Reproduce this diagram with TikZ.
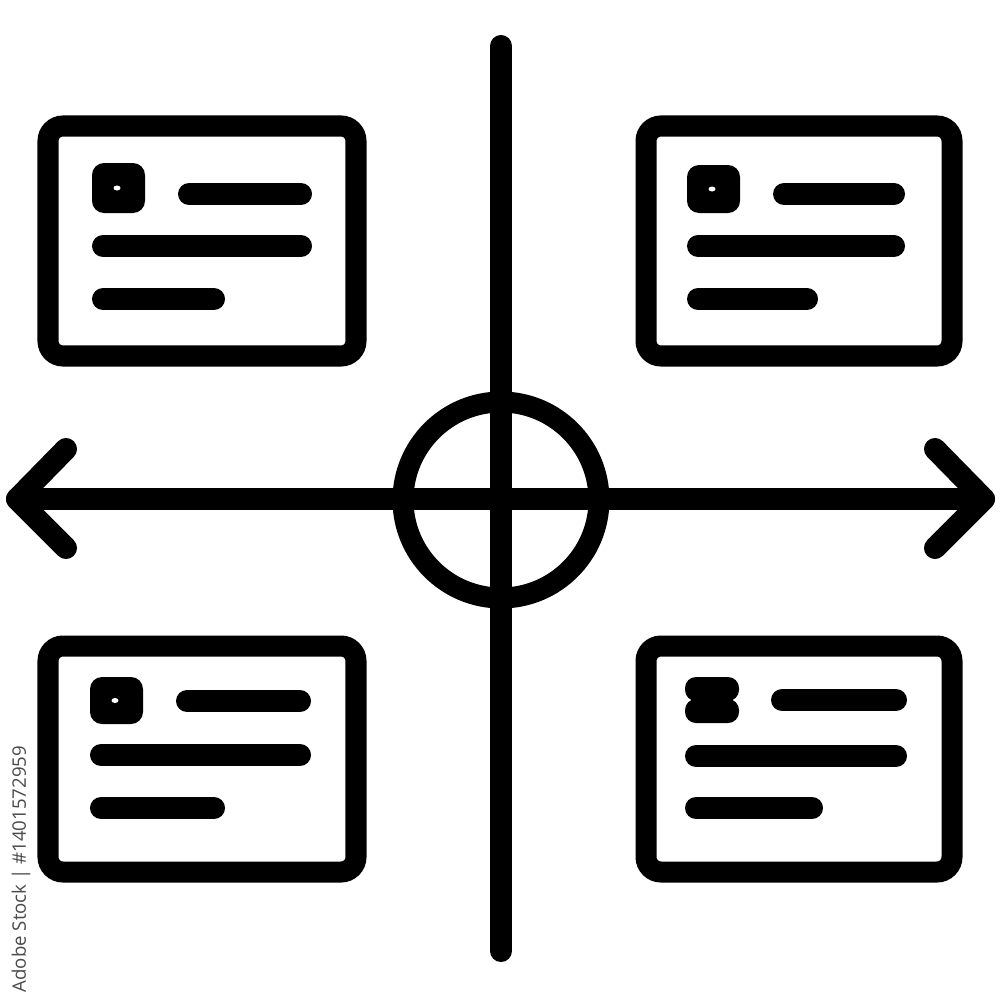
\documentclass[tikz,border=0pt]{standalone}
\usepackage{fontspec}
\newfontfamily\stockfont{Open Sans}
\usetikzlibrary{calc}

\definecolor{stockgray}{HTML}{4A4A4A}

\begin{document}
\begin{tikzpicture}[x=0.01cm,y=-0.01cm,
    ink/.style={line width=0.22cm, line cap=round, line join=round},
    cardframe/.style={line width=0.21cm, rounded corners=0.15cm},
    ]
    % 画布
    \fill[white] (0,0) rectangle (1000,1000);
    \useasboundingbox (0,0) rectangle (1000,1000);

    % 坐标轴端点
    \coordinate (T) at (501,46);
    \coordinate (Bt) at (501,951);
    \coordinate (L) at (17,499);
    \coordinate (R) at (984,499);
    \coordinate (O) at (501,500);

    \draw[ink] (T) -- (Bt);
    \draw[ink] (L) -- (R);

    % 两端箭头
    \draw[ink] (66,449) -- (L) -- (66,548);
    \draw[ink] (935,449) -- (R) -- (935,548);

    % 中心圆
    \draw[line width=0.21cm] (O) circle (98);

    % 四张卡片: 边框 x1/y1/x2/y2, 内容左端 cx, 三条线的 y
    \foreach \xa/\ya/\xb/\yb/\cx/\la/\lb/\lc/\ea/\ec in {
        48/126/356/356/92/194/246/299/209/122,
        646/126/952/356/687/194/246/299/207/120,
        48/646/356/872/90/701/755/808/210/124,
        646/646/952/872/685/700/756/808/211/127}{
        \draw[cardframe] (\xa,\ya) rectangle (\xb,\yb);
        \draw[ink] ({\cx+97},\la) -- ({\cx+\ea},\la);
        \draw[ink] ({\cx+11},\lb) -- ({\cx+\ea},\lb);
        \draw[ink] ({\cx+11},\lc) -- ({\cx+\ec},\lc);
    }

    % 方形头像 (三张卡片)
    \foreach \cx/\it/\ib in {92/163/213, 687/165/213, 90/677/724}{
        \fill[rounded corners=0.12cm] (\cx,\it) rectangle ({\cx+53},\ib);
        \fill[white] ({\cx+25},{(\it+\ib)/2}) ellipse (3.5 and 2.5);
    }

    % 右下卡片: 两个椭圆
    \fill[rounded corners=0.11cm] (685,677) rectangle (739,701);
    \fill[rounded corners=0.11cm] (685,699) rectangle (739,723);
    \fill (712,700) ellipse (20 and 4);

    % 水印
    \node[rotate=90, anchor=west, inner sep=0pt, text=stockgray,
          font=\stockfont\fontsize{5.3}{6}\selectfont] (stock) at (21,993)
          {Adobe Stock | \#1401572959};
\end{tikzpicture}
\end{document}
